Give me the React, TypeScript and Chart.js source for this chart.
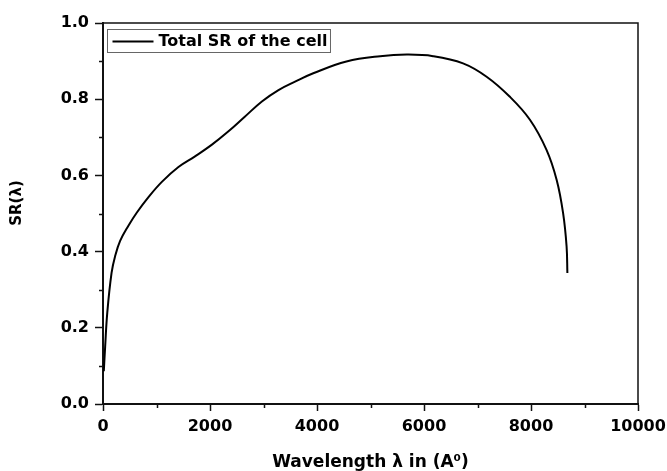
import React, { useEffect, useRef } from 'react';
import { Chart, registerables } from 'chart.js';

Chart.register(...registerables);

// Wavelength (Å) and total spectral response of the cell
const wavelengths = [15, 40, 80, 160, 225, 320, 475, 630, 850, 1100, 1410, 1720, 2030, 2340, 2650, 2970, 3280, 3590, 3930, 4550, 5180, 5680, 6170, 6730, 7170, 7600, 7980, 8290, 8480, 8600, 8665, 8680];
const srValues = [0.086, 0.15, 0.24, 0.344, 0.387, 0.428, 0.468, 0.502, 0.543, 0.583, 0.622, 0.65, 0.68, 0.715, 0.754, 0.794, 0.824, 0.846, 0.868, 0.899, 0.913, 0.917, 0.913, 0.894, 0.859, 0.807, 0.746, 0.667, 0.588, 0.501, 0.414, 0.344];

const xTicks = [0, 2000, 4000, 6000, 8000, 10000];
const xMinorTicks = [1000, 3000, 5000, 7000, 9000];
const yTicks = [0, 0.2, 0.4, 0.6, 0.8, 1.0];
const yMinorTicks = [0.1, 0.3, 0.5, 0.7, 0.9];

const seriesLabel = 'Total SR of the cell';
const xTitle = 'Wavelength λ in (A⁰)';
const yTitle = 'SR(λ)';

const FONT = "'DejaVu Sans', sans-serif";

const decorPlugin = {
  id: 'decor',
  afterDraw(chart: any) {
    const { ctx, chartArea: a, scales } = chart;
    ctx.save();
    // frame top & right
    ctx.strokeStyle = '#111';
    ctx.lineWidth = 1.5;
    ctx.beginPath();
    ctx.moveTo(a.left, a.top);
    ctx.lineTo(a.right, a.top);
    ctx.lineTo(a.right, a.bottom);
    ctx.stroke();
    // minor ticks
    ctx.lineWidth = 1.5;
    ctx.beginPath();
    xMinorTicks.forEach((v) => {
      const px = Math.round(scales.x.getPixelForValue(v)) + 0.5;
      ctx.moveTo(px, a.bottom);
      ctx.lineTo(px, a.bottom + 4);
    });
    yMinorTicks.forEach((v) => {
      const py = Math.round(scales.y.getPixelForValue(v)) + 0.5;
      ctx.moveTo(a.left - 4, py);
      ctx.lineTo(a.left, py);
    });
    ctx.stroke();

    // legend box
    const ds = chart.data.datasets[0];
    ctx.font = `bold 16px ${FONT}`;
    const tw = ctx.measureText(ds.label).width;
    const bx = a.left + 4.5;
    const by = a.top + 6.5;
    const bh = 23;
    const lineLen = 41;
    const bw = 5 + lineLen + 5 + tw + 3;
    ctx.strokeStyle = '#666';
    ctx.lineWidth = 1;
    ctx.strokeRect(bx, by, bw, bh);
    ctx.strokeStyle = ds.borderColor;
    ctx.lineWidth = 2;
    ctx.beginPath();
    ctx.moveTo(bx + 5, by + 12);
    ctx.lineTo(bx + 5 + lineLen, by + 12);
    ctx.stroke();
    ctx.fillStyle = '#000';
    ctx.textAlign = 'left';
    ctx.textBaseline = 'alphabetic';
    ctx.fillText(ds.label, bx + 5 + lineLen + 5, by + 16.5);

    // y-axis title
    ctx.translate(17.5, 203);
    ctx.rotate(-Math.PI / 2);
    ctx.font = `bold 15px ${FONT}`;
    ctx.textAlign = 'center';
    ctx.textBaseline = 'middle';
    ctx.fillText(yTitle, 0, 0);
    ctx.restore();
  },
};

export default function App() {
  const ref = useRef<HTMLCanvasElement | null>(null);

  useEffect(() => {
    if (!ref.current) return;
    const chart = new Chart(ref.current, {
      type: 'line',
      data: {
        datasets: [
          {
            label: seriesLabel,
            data: wavelengths.map((x, i) => ({ x, y: srValues[i] })),
            borderColor: '#000',
            borderWidth: 2,
            pointRadius: 0,
            fill: false,
            tension: 0.4,
          },
        ],
      },
      options: {
        animation: false,
        responsive: false,
        maintainAspectRatio: false,
        layout: { padding: { top: 23, right: 29, left: 0, bottom: 0 } },
        plugins: {
          legend: { display: false },
          tooltip: { enabled: false },
        },
        scales: {
          x: {
            type: 'linear',
            min: 0,
            max: 10000,
            afterBuildTicks: (s: any) => {
              s.ticks = xTicks.map((v) => ({ value: v }));
            },
            afterFit: (s: any) => {
              s.height = 67;
              s.paddingLeft = 0;
              s.paddingRight = 0;
            },
            grid: {
              drawOnChartArea: false,
              drawTicks: true,
              tickLength: 7,
              tickWidth: 1.5,
              tickColor: '#111',
            },
            border: { display: true, color: '#111', width: 2 },
            ticks: {
              color: '#000',
              padding: 6,
              maxRotation: 0,
              font: { family: FONT, size: 16, weight: 'bold' },
              callback: (v: any) => String(v),
            },
            title: {
              display: true,
              text: xTitle,
              color: '#000',
              font: { family: FONT, size: 17, weight: 'bold', lineHeight: 1.0 },
              padding: { top: 0, bottom: 0 },
            },
          },
          y: {
            type: 'linear',
            min: 0,
            max: 1,
            afterBuildTicks: (s: any) => {
              s.ticks = yTicks.map((v) => ({ value: v }));
            },
            afterFit: (s: any) => {
              s.width = 103;
              s.paddingTop = 0;
              s.paddingBottom = 0;
            },
            grid: {
              drawOnChartArea: false,
              drawTicks: true,
              tickLength: 8,
              tickWidth: 1.5,
              tickColor: '#111',
            },
            border: { display: true, color: '#111', width: 2 },
            ticks: {
              color: '#000',
              padding: 6,
              font: { family: FONT, size: 16, weight: 'bold' },
              callback: (v: any) => Number(v).toFixed(1),
            },
          },
        },
      },
      plugins: [decorPlugin],
    } as any);
    return () => chart.destroy();
  }, []);

  return (
    <div style={{ width: 667, height: 471, background: '#fff' }}>
      <style>{'body{margin:0;background:#fff}'}</style>
      <canvas ref={ref} width={667} height={471} style={{ display: 'block' }} />
    </div>
  );
}
